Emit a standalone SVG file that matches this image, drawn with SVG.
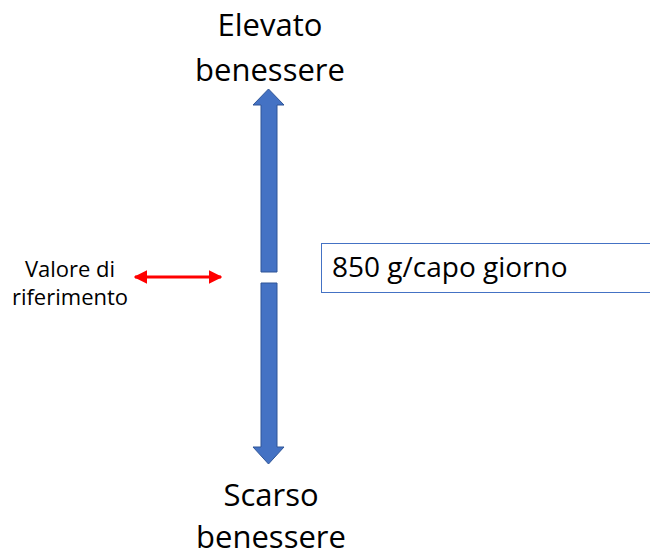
<svg xmlns="http://www.w3.org/2000/svg" width="650" height="552" viewBox="0 0 650 552">
<defs>
<style>
.big{font-family:"Open Sans","Liberation Sans",sans-serif;font-size:31px;fill:#000;text-anchor:middle}
.small{font-family:"Open Sans","Liberation Sans",sans-serif;font-size:22px;fill:#000;text-anchor:middle}
.blue{fill:#4472C4;stroke:#2F5597;stroke-width:1}
</style>
<marker id="rh" viewBox="0 0 10 10" refX="9" refY="5" markerWidth="4.5" markerHeight="4.5" orient="auto-start-reverse" markerUnits="strokeWidth">
<path d="M0,0 L10,5 L0,10 z" fill="#FF0000"/>
</marker>
</defs>
<rect width="650" height="552" fill="#fff"/>
<g id="top-label"><text class="big" x="270" y="36">Elevato</text><text class="big" x="270" y="81">benessere</text></g>
<g id="bottom-label"><text class="big" x="271" y="506">Scarso</text><text class="big" x="271" y="548">benessere</text></g>
<g id="up-arrow"><path class="blue" d="M268.5,89 L284,105 L277,105 L277,272 L261,272 L261,105 L253,105 Z"/></g>
<g id="down-arrow"><path class="blue" d="M261,283 L277,283 L277,447 L284,447 L268.5,464 L253,447 L261,447 Z"/></g>
<g id="ref-label"><text class="small" x="70" y="277">Valore di</text><text class="small" x="70" y="305">riferimento</text></g>
<g id="value-box"><rect x="321.5" y="243.5" width="340" height="49" fill="#fff" stroke="#4472C4" stroke-width="1"/><text x="332" y="277" font-family="Open Sans,Liberation Sans,sans-serif" font-size="28" fill="#000">850 g/capo giorno</text></g>
<g id="connectors"><line x1="135" y1="277" x2="221" y2="277" stroke="#FF0000" stroke-width="3" marker-start="url(#rh)" marker-end="url(#rh)"/></g>
</svg>
